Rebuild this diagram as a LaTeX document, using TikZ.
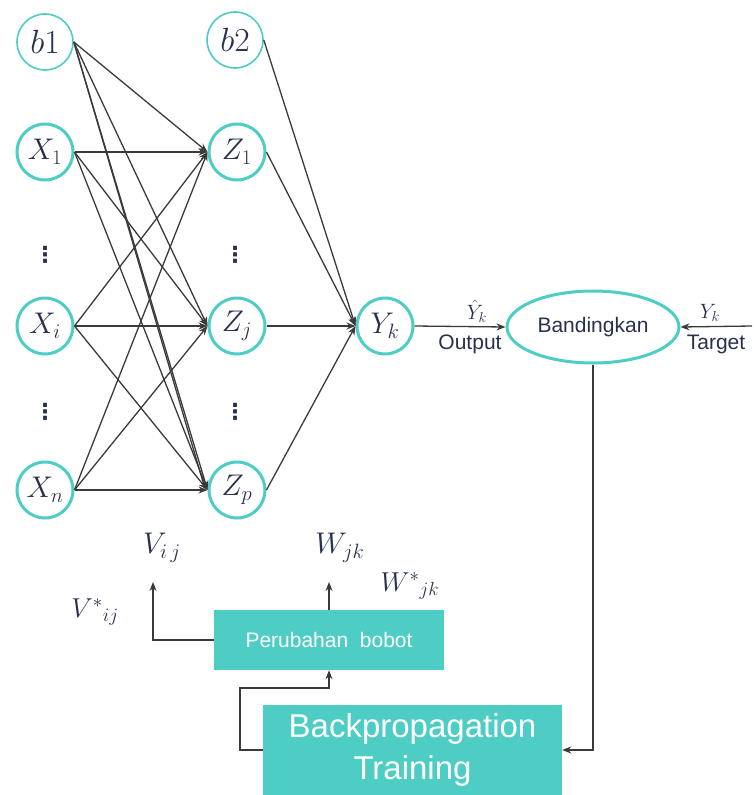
\documentclass[tikz,border=0pt]{standalone}
\usepackage{fontspec}
\setsansfont{Liberation Sans}
\newfontfamily\dvfont{DejaVu Sans}
\usetikzlibrary{arrows.meta,shapes.geometric,calc}
\definecolor{tealc}{RGB}{78,205,196}
\definecolor{linec}{RGB}{58,58,58}
\definecolor{txtc}{RGB}{40,48,78}
\tikzset{
  neuron/.style={circle,draw=tealc,line width=3pt,minimum size=56pt,inner sep=0pt,text=txtc,font=\fontsize{24}{30}\selectfont},
  bias/.style={neuron,line width=1.6pt},
  conn/.style={draw=linec,line width=1.3pt,-{Stealth[length=9pt,width=7pt]}},
  plain/.style={draw=linec,line width=1.3pt},
  dotsn/.style={text=txtc,font=\dvfont\bfseries\fontsize{22}{24}\selectfont,inner sep=0pt},
  mlabel/.style={text=txtc,font=\fontsize{24}{28}\selectfont,inner sep=0pt},
  slabel/.style={text=txtc,font=\sffamily\fontsize{21}{24}\selectfont,inner sep=0pt},
  tbox/.style={rectangle,fill=tealc,text=white,font=\sffamily,inner sep=0pt,align=center}
}
\newcommand{\mm}[2][1.2]{\scalebox{#1}{$#2$}}
\begin{document}
\begin{tikzpicture}[x=1pt,y=-1pt]
\useasboundingbox (0,0) rectangle (754,795);
% input layer
\node[bias] (b1) at (45,42) {\mm[1.35]{b1}};
\node[neuron] (X1) at (45,152) {\mm{X_1}};
\node[dotsn] (d1) at (45,255) {⋮};
\node[neuron] (Xi) at (45,326) {\mm{X_i}};
\node[dotsn] (d2) at (45,412) {⋮};
\node[neuron] (Xn) at (45,490) {\mm{X_n}};
% hidden layer
\node[bias] (b2) at (235,40) {\mm[1.35]{b2}};
\node[neuron] (Z1) at (237,152) {\mm{Z_1}};
\node[dotsn] (d3) at (235,255) {⋮};
\node[neuron] (Zj) at (237,326) {\mm{Z_j}};
\node[dotsn] (d4) at (235,412) {⋮};
\node[neuron] (Zp) at (237,490) {\mm{Z_p}};
% output
\node[neuron] (Yk) at (385,326) {\mm{Y_k}};
\node[ellipse,draw=tealc,line width=3pt,minimum width=172pt,minimum height=72pt,inner sep=0pt,text=txtc,font=\sffamily\fontsize{21}{24}\selectfont] (band) at (593,327) {Bandingkan};
% connections input -> hidden
\foreach \s in {b1,X1,Xi,Xn}{
  \foreach \t in {Z1,Zj,Zp}{
    \draw[conn] (\s.east) -- (\t.west);
  }
}
\draw[plain] (b1.east) -- ($(Zp.west)+(-3,-3)$);
% hidden -> output
\foreach \s in {b2,Z1,Zj,Zp}{
  \draw[conn] (\s.east) -- (Yk.west);
}
% output -> compare
\draw[conn] (Yk.east) -- (band.west);
\node[text=txtc,font=\fontsize{20}{22}\selectfont,inner sep=0pt] (yhat) at (477,311) {$\hat{Y}_k$};
\node[slabel] (outl) at (470,344) {Output};
\coordinate (tgt) at (752,326);
\draw[conn] (tgt) -- (band.east);
\node[text=txtc,font=\fontsize{20}{22}\selectfont,inner sep=0pt] (yk2) at (710,313) {$Y_k$};
\node[slabel] (tgtl) at (716,344) {Target};
% boxes
\node[tbox,minimum width=299pt,minimum height=90pt,font=\sffamily\fontsize{33}{42}\selectfont] (bp) at (412.5,750) {Backpropagation\\Training};
\node[tbox,minimum width=230pt,minimum height=60pt,font=\sffamily\fontsize{21}{24}\selectfont] (pb) at (329,640) {Perubahan\ \ bobot};
% feedback
\draw[conn] (band.south) |- (bp.east);
\coordinate (fb) at (240,688);
\draw[conn] (bp.west) -| (fb) -- (fb -| pb.south) -- (pb.south);
\coordinate (vtip) at (153,582);
\coordinate (wtip) at (329,582);
\draw[conn] (pb.west) -| (vtip);
\draw[conn] (pb.north) -- (wtip);
% weight labels
\node[mlabel] (vij) at (162,548) {\mm{V_{i\,j}}};
\node[mlabel] (wjk) at (340,548) {\mm{W_{jk}}};
\node[mlabel] (wsjk) at (410,586) {\mm[1.1]{{W^{*}}_{jk}}};
\node[mlabel] (vsij) at (95,612) {\mm[1.1]{{V^{*}}_{ij}}};
\end{tikzpicture}
\end{document}
